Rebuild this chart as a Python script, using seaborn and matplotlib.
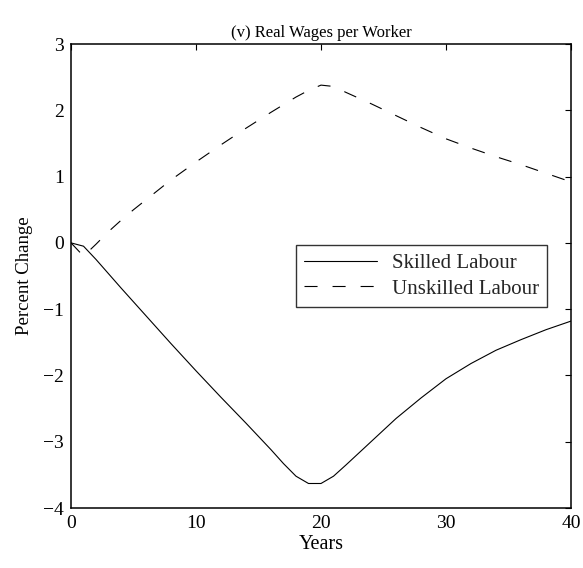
import numpy as np
import pandas as pd
import matplotlib
matplotlib.use("Agg")
import matplotlib.pyplot as plt
import seaborn as sns

# Data
skilled_years = [0, 1, 2, 4, 6, 8, 10, 12, 14, 16, 17, 18, 19, 20, 21, 22, 24, 26, 28, 30, 32, 34, 36, 38, 40]
skilled_change = [0, -0.05, -0.25, -0.68, -1.10, -1.52, -1.93, -2.33, -2.72, -3.12, -3.33, -3.52, -3.63, -3.63,
                  -3.52, -3.35, -3.00, -2.65, -2.34, -2.05, -1.82, -1.62, -1.46, -1.31, -1.18]

unskilled_years = [0, 1, 2, 3, 4, 5, 6, 8, 10, 12, 14, 16, 18, 19, 20, 21, 22, 24, 26, 28, 30, 32, 34, 36, 38, 40]
unskilled_change = [0, -0.2, -0.02, 0.17, 0.34, 0.50, 0.65, 0.95, 1.22, 1.48, 1.73, 1.97, 2.20, 2.30, 2.38, 2.36,
                    2.27, 2.10, 1.92, 1.74, 1.57, 1.43, 1.30, 1.18, 1.05, 0.92]

series_names = ["Skilled Labour", "Unskilled Labour"]
x_ticks = [0, 10, 20, 30, 40]
y_ticks = [-4, -3, -2, -1, 0, 1, 2, 3]

sns.set_theme(style="white")
plt.rcParams['font.family'] = ['Liberation Serif', 'DejaVu Serif']
plt.rcParams['lines.scale_dashes'] = False

df_s = pd.DataFrame({"Years": skilled_years, "Percent Change": skilled_change})
df_u = pd.DataFrame({"Years": unskilled_years, "Percent Change": unskilled_change})

DASH = (9.4, 10.8)

fig = plt.figure(figsize=(5.83, 5.68), dpi=100)
ax = fig.add_axes([0.1218, 0.1056, 0.8576, 0.8169])

sns.lineplot(data=df_s, x="Years", y="Percent Change", ax=ax, color="black", linewidth=0.8,
             label=series_names[0], estimator=None, sort=False)
sns.lineplot(data=df_u, x="Years", y="Percent Change", ax=ax, color="black", linewidth=0.8,
             label=series_names[1], estimator=None, sort=False)
ax.lines[1].set_dashes(DASH)

ax.set_xlim(0, 40)
ax.set_ylim(-4, 3)
ax.set_xticks(x_ticks)
ax.set_yticks(y_ticks)
ax.tick_params(direction="in", length=4, width=0.8, top=True, right=True,
               labelsize=14, colors="black", pad=5)
for sp in ax.spines.values():
    sp.set_visible(True)
    sp.set_color("black")
    sp.set_linewidth(1.1)

ax.set_xlabel("Years", fontsize=14.5, color="black", labelpad=2)
ax.set_ylabel("Percent Change", fontsize=13.5, color="black", labelpad=7)
ax.set_title("(v) Real Wages per Worker", fontsize=12, color="black", pad=5)

leg = ax.legend(loc="center right", bbox_to_anchor=(0.952, 0.5), fontsize=15, frameon=True,
                fancybox=False, shadow=False, handlelength=3.5, handletextpad=0.7,
                borderpad=0.4, labelspacing=0.3, borderaxespad=0)
leg.get_frame().set_edgecolor("black")
leg.get_frame().set_linewidth(1.0)
leg.get_lines()[1].set_dashes(DASH)

fig.savefig("out.png", dpi=100)
